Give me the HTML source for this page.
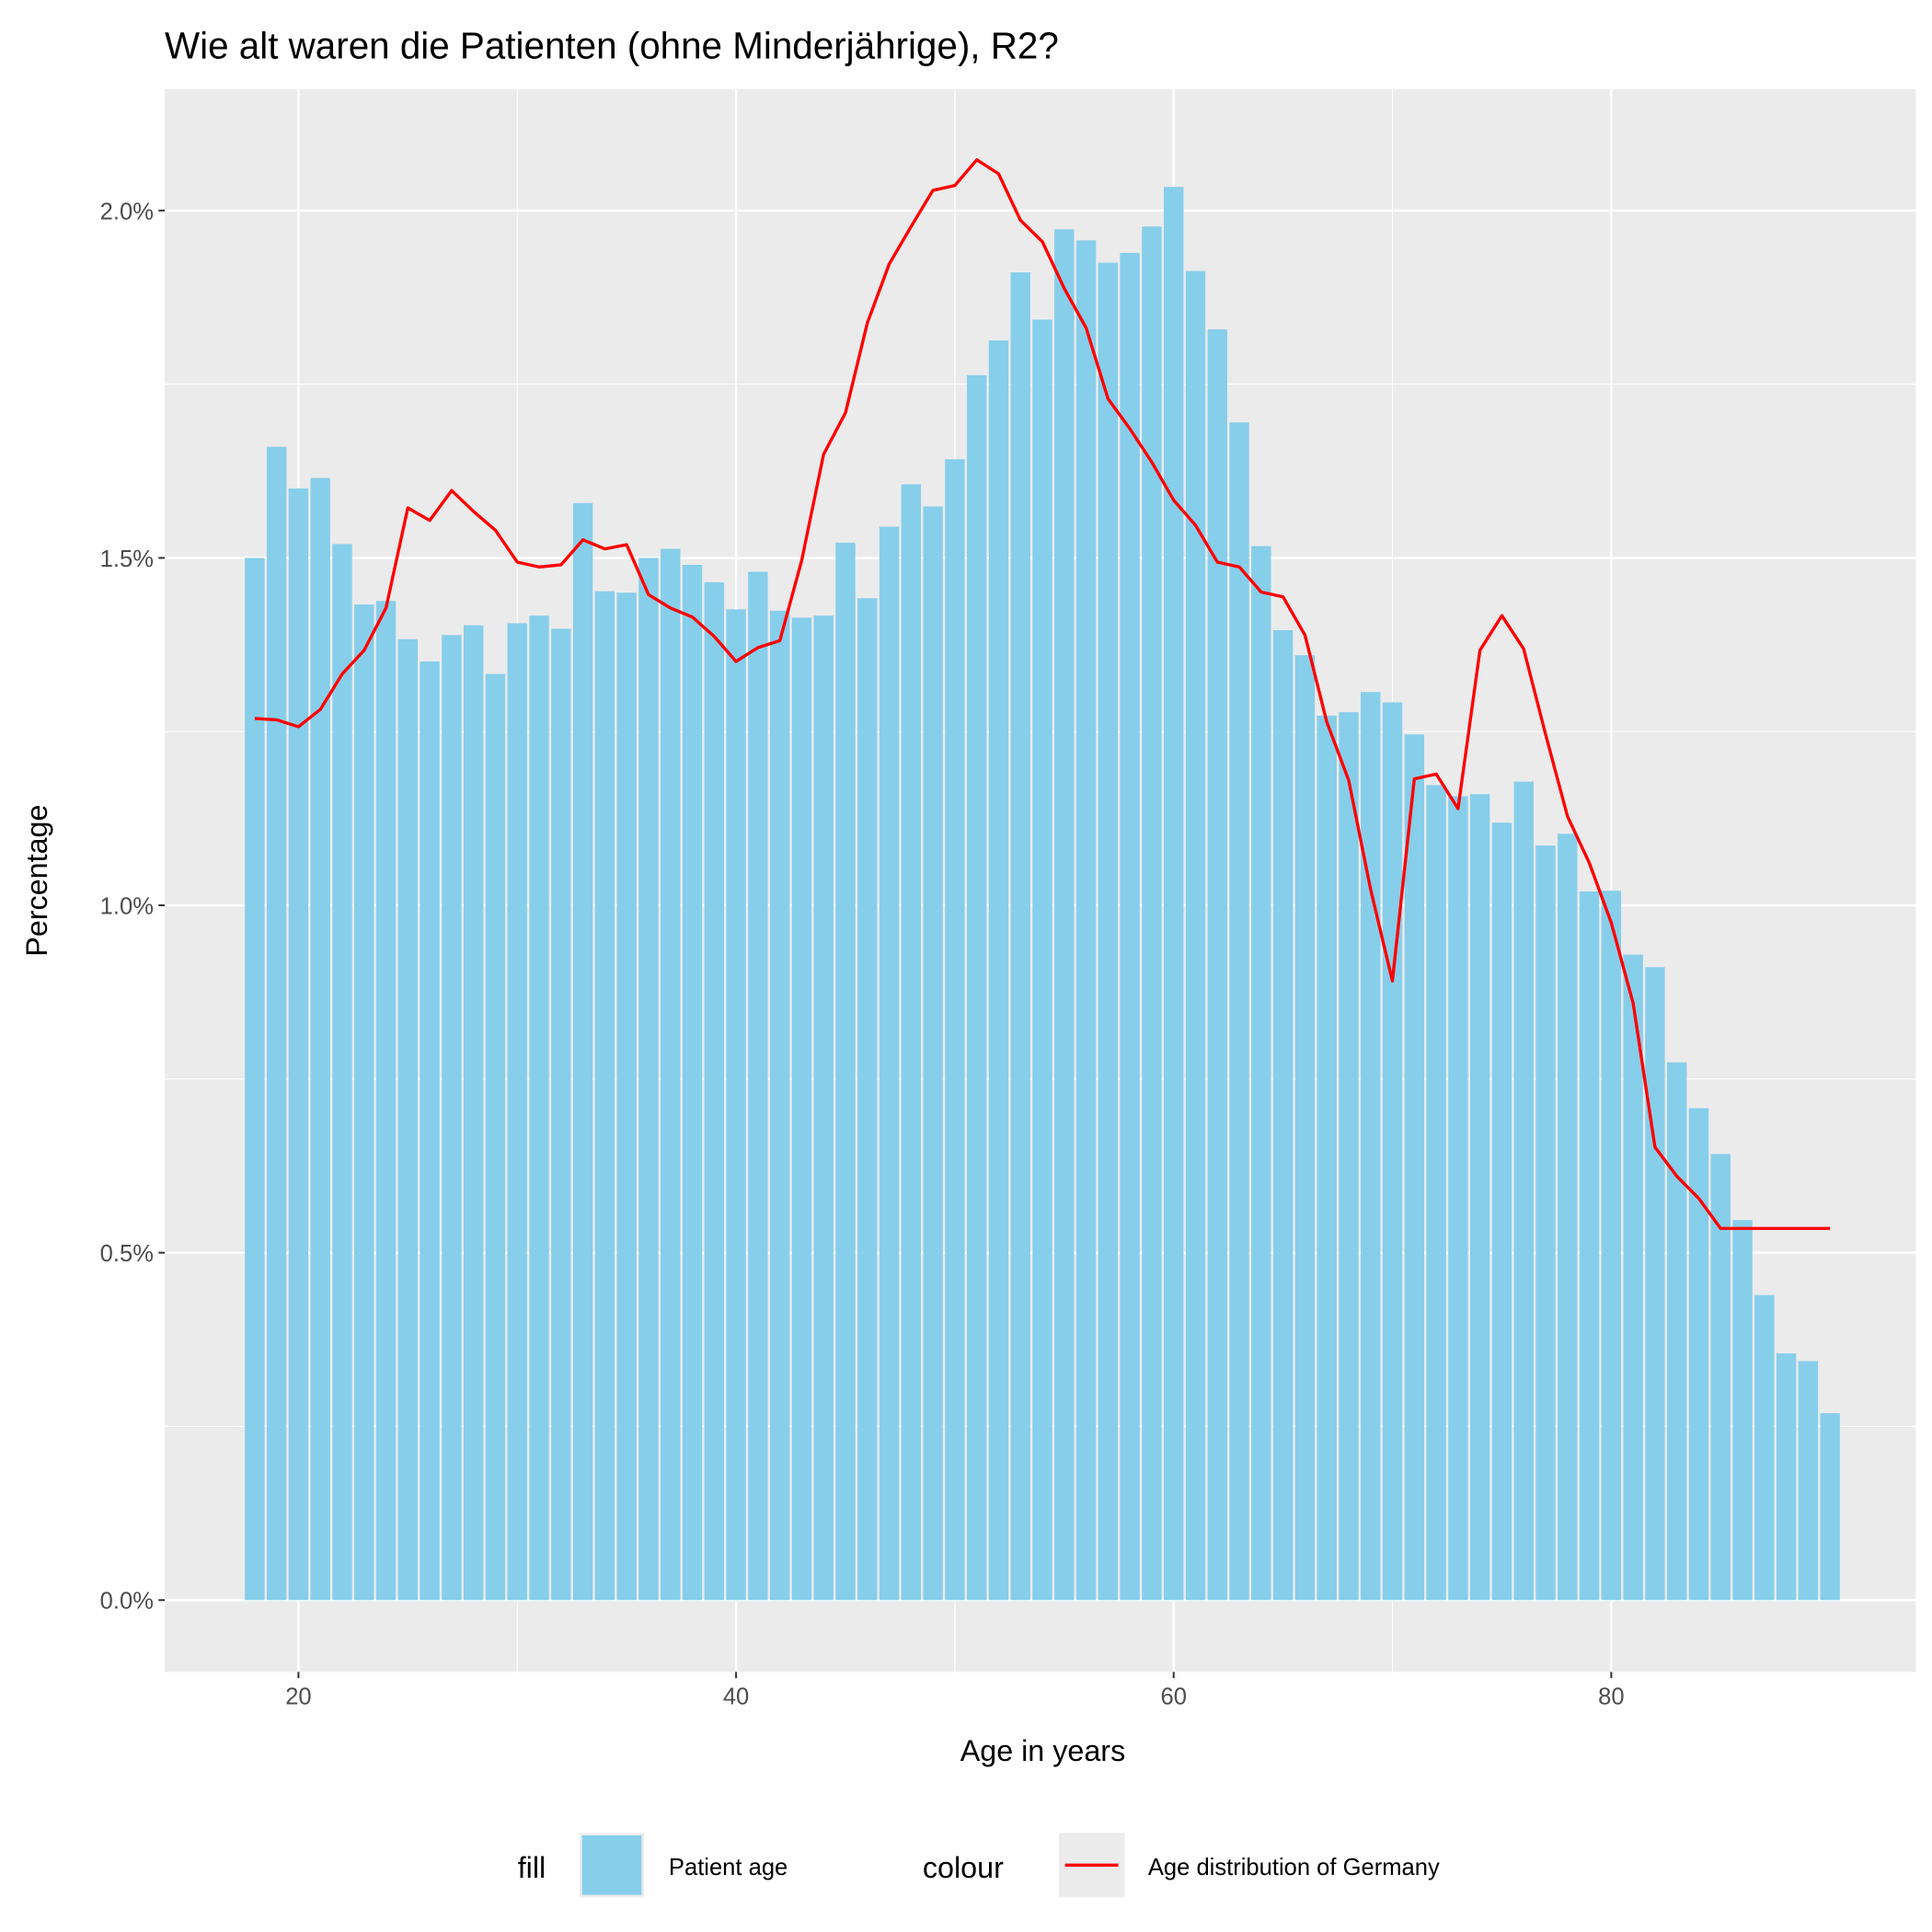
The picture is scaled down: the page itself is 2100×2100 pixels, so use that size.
<!DOCTYPE html>
<html><head><meta charset="utf-8"><style>
html,body{margin:0;padding:0;background:#fff}
svg{display:block;font-family:"Liberation Sans",Arial,sans-serif}
</style></head><body>
<svg id="chart" width="2100" height="2100" viewBox="0 0 1560 1560">
<text x="133" y="47" font-size="30" fill="#000">Wie alt waren die Patienten (ohne Minderjährige), R2?</text>
<rect x="133" y="72" width="1414" height="1278" fill="#ebebeb"/>
<g id="grid"></g>
<g id="bars"></g>
<g id="line"></g>
<g id="axes"></g>
<text x="842" y="1422" font-size="24" text-anchor="middle" fill="#000">Age in years</text>
<text transform="translate(38,711) rotate(-90)" font-size="24" text-anchor="middle" fill="#000">Percentage</text>
<g>
<text x="418" y="1516" font-size="24" fill="#000">fill</text>
<rect x="468" y="1480" width="52" height="52" fill="#ebebeb"/>
<rect x="470" y="1482" width="48" height="48" fill="#87ceeb"/>
<text x="540" y="1514" font-size="19" fill="#000">Patient age</text>
<text x="745" y="1516" font-size="24" fill="#000">colour</text>
<rect x="855" y="1480" width="53" height="52" fill="#ebebeb"/>
<line x1="860" y1="1506" x2="903" y2="1506" stroke="#ff0000" stroke-width="2.5"/>
<text x="927" y="1514" font-size="19" fill="#000">Age distribution of Germany</text>
</g>
</svg>
<script>
const ages = [];
for (let a = 18; a <= 90; a++) ages.push(a);
const patientPct = [1.50,1.66,1.60,1.615,1.52,1.433,1.438,1.383,1.351,1.389,1.403,1.333,1.406,1.417,1.398,1.579,1.452,1.45,1.50,1.513,1.49,1.465,1.426,1.48,1.424,1.414,1.417,1.522,1.442,1.545,1.606,1.574,1.642,1.763,1.813,1.911,1.843,1.973,1.957,1.925,1.939,1.977,2.034,1.913,1.829,1.695,1.517,1.396,1.36,1.273,1.278,1.307,1.292,1.246,1.173,1.157,1.16,1.119,1.178,1.086,1.103,1.02,1.021,0.929,0.911,0.774,0.708,0.642,0.547,0.439,0.355,0.344,0.269];
const germanyPct = [1.269,1.267,1.257,1.282,1.333,1.367,1.428,1.572,1.554,1.597,1.567,1.540,1.494,1.487,1.490,1.526,1.513,1.519,1.447,1.428,1.415,1.387,1.351,1.371,1.381,1.496,1.649,1.709,1.838,1.923,1.977,2.029,2.036,2.073,2.053,1.986,1.955,1.888,1.831,1.729,1.686,1.638,1.583,1.547,1.494,1.487,1.451,1.444,1.389,1.264,1.18,1.023,0.891,1.182,1.189,1.139,1.367,1.417,1.369,1.246,1.128,1.061,0.975,0.859,0.652,0.61,0.578,0.535,0.535,0.535,0.535,0.535,0.535];
const xTicks = [20,40,60,80];
const xMinor = [30,50,70];
const yTicks = [0,0.5,1.0,1.5,2.0];
const yMinor = [0.25,0.75,1.25,1.75];
const yLabels = ["0.0%","0.5%","1.0%","1.5%","2.0%"];

const NS = "http://www.w3.org/2000/svg";
const PL = 133, PR = 1547, PT = 72, PB = 1350;
function xs(a){ return 241 + (a - 20) * (1301 - 241) / 60; }
function ys(v){ return 1292 - v * (1292 - 170) / 2.0; }
function mk(tag, attrs, parent){ const e = document.createElementNS(NS, tag); for (const k in attrs) e.setAttribute(k, attrs[k]); parent.appendChild(e); return e; }

const grid = document.getElementById('grid');
yMinor.forEach(v => { const l = mk('line', {x1:PL,x2:PR,y1:ys(v),y2:ys(v),stroke:'#fff','stroke-width':0.8}, grid);
  
   });
xMinor.forEach(v => { const l = mk('line', {x1:xs(v),x2:xs(v),y1:PT,y2:PB,stroke:'#fff','stroke-width':0.8}, grid);
  
   });
yTicks.forEach(v => { const l = mk('line', {x1:PL,x2:PR,y1:ys(v),y2:ys(v),stroke:'#fff','stroke-width':1.8}, grid);
  
   });
xTicks.forEach(v => { const l = mk('line', {x1:xs(v),x2:xs(v),y1:PT,y2:PB,stroke:'#fff','stroke-width':1.8}, grid);
  
   });

const bars = document.getElementById('bars');
const bw = 0.9 * (xs(1) - xs(0));
ages.forEach((a, i) => {
  const r = mk('rect', {x:xs(a)-bw/2, y:ys(patientPct[i]), width:bw, height:ys(0)-ys(patientPct[i]), fill:'#87ceeb'}, bars);
  
  
});

const lineG = document.getElementById('line');
const pts = ages.map((a, i) => xs(a).toFixed(1) + ',' + ys(germanyPct[i]).toFixed(1)).join(' ');
const pl = mk('polyline', {points:pts, fill:'none', stroke:'#ff0000', 'stroke-width':2.5, 'stroke-linejoin':'round'}, lineG);



const axes = document.getElementById('axes');
yTicks.forEach((v, i) => {
  const t = mk('line', {x1:PL-5,x2:PL,y1:ys(v),y2:ys(v),stroke:'#333','stroke-width':1.5}, axes);
  
  
  const tx = mk('text', {x:PL-9, y:ys(v)+7, 'font-size':19, 'text-anchor':'end', fill:'#4d4d4d'}, axes);
  tx.textContent = yLabels[i];
  
  
});
xTicks.forEach(v => {
  const t = mk('line', {x1:xs(v),x2:xs(v),y1:PB,y2:PB+5,stroke:'#333','stroke-width':1.5}, axes);
  
  
  const tx = mk('text', {x:xs(v), y:PB+26, 'font-size':19, 'text-anchor':'middle', fill:'#4d4d4d'}, axes);
  tx.textContent = String(v);
  
  
});
</script>
</body></html>
